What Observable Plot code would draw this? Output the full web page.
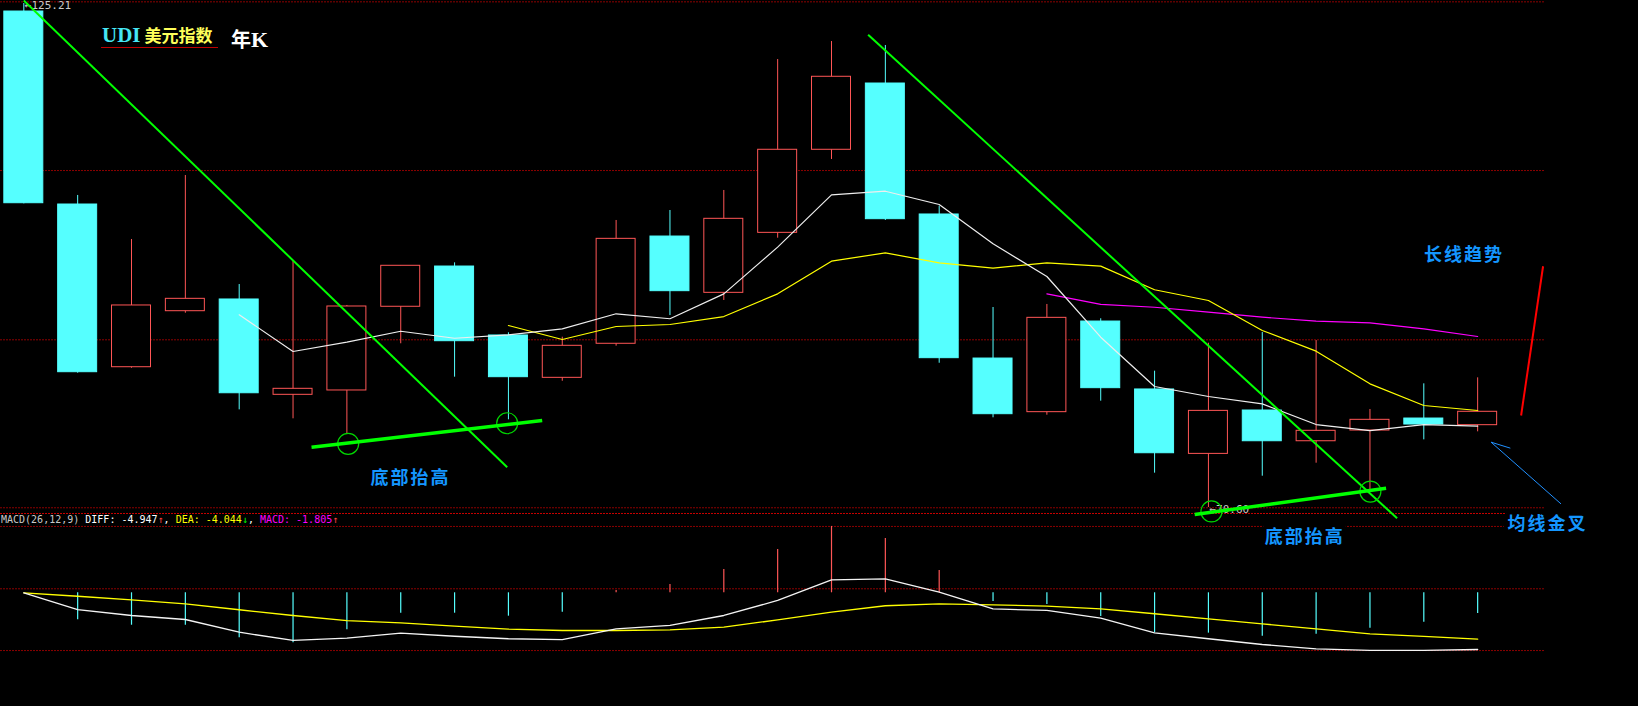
<!DOCTYPE html>
<html><head><meta charset="utf-8">
<script src="https://cdn.jsdelivr.net/npm/d3@7"></script>
<script src="https://cdn.jsdelivr.net/npm/@observablehq/plot@0.6"></script>
<style>
html,body{margin:0;padding:0;background:#000;}
#wrap{position:relative;width:1638px;height:706px;overflow:hidden;background:#000;}
#wrap svg{position:absolute;left:0;top:0;}
.ovl{position:absolute;white-space:pre;}
</style></head><body>
<div id="wrap"></div>
<script>
// ---- yearly candles (USD index) ----
const open  = [124.34,103.43,85.80,91.87,93.14,82.81,83.28,92.35,96.71,89.24,84.65,88.34,99.96,93.86,100.36,109.36,116.54,102.35,86.74,80.93,90.75,83.39,76.41,81.11,77.78,78.94,80.24,79.52];
const high  = [125.21,104.41,99.64,106.57,94.76,97.25,92.49,96.79,97.11,89.53,89.05,101.70,102.78,104.95,119.14,121.09,120.66,103.25,92.27,92.60,91.05,85.37,88.40,89.56,88.69,81.22,84.00,84.65];
const low   = [103.50,85.15,85.69,91.65,81.18,80.21,78.58,88.34,84.72,80.10,84.28,88.08,91.40,93.03,99.78,108.31,101.70,86.23,80.32,80.60,82.12,74.32,70.60,73.99,75.40,72.26,77.93,78.80];
const close = [103.57,85.26,92.49,93.21,82.98,83.46,92.38,96.79,88.62,84.72,88.12,99.71,94.04,101.88,109.36,117.27,101.84,86.78,80.71,91.15,83.53,76.48,81.07,77.78,78.91,80.10,79.59,80.97];
// moving averages
const ma5  = [null,null,null,null,91.48,87.50,88.51,89.70,88.94,89.31,89.96,91.59,91.05,93.75,98.81,104.48,104.87,103.43,99.17,95.63,89.05,83.71,82.63,81.83,79.59,78.94,79.59,79.41];
const ma10 = [null,null,null,null,null,null,null,null,null,90.32,88.80,90.21,90.43,91.29,93.75,97.29,98.19,97.11,96.53,97.11,96.75,94.19,93.03,89.78,87.54,84.00,81.65,81.11];
const ma20 = [null,null,null,null,null,null,null,null,null,null,null,null,null,null,null,null,null,null,null,93.75,92.60,92.30,91.76,91.22,90.79,90.61,89.96,89.13];
// MACD(26,12,9)
const diff = [0,-1.46,-1.98,-2.33,-3.44,-4.16,-3.96,-3.52,-3.79,-4.01,-4.08,-3.14,-2.85,-1.98,-0.67,1.13,1.22,0.05,-1.40,-1.54,-2.21,-3.49,-4.01,-4.51,-4.89,-5.03,-5.03,-4.947];
const dea  = [0,-0.30,-0.61,-0.96,-1.48,-1.98,-2.42,-2.62,-2.91,-3.17,-3.29,-3.29,-3.23,-3.00,-2.36,-1.69,-1.13,-0.96,-1.05,-1.17,-1.40,-1.83,-2.27,-2.71,-3.14,-3.58,-3.81,-4.044];
const macd = [0,-2.36,-2.83,-2.83,-3.93,-4.36,-3.23,-1.78,-1.78,-2.04,-1.69,0.20,0.72,2.03,3.78,5.79,4.74,1.95,-0.76,-1.02,-2.07,-3.49,-3.52,-3.79,-3.61,-3.09,-2.57,-1.805];
// reference lines
const priceGrid = [70.57, 88.77, 107.11, 125.39];
const macdGrid = [-5.04, 0.35, 5.79];
const macdFrame = [6.92];
// annotations (bar index, price)
const trendLines = [{x1:0,y1:125.53,x2:8.977,y2:74.97},{x1:15.68,y1:121.82,x2:25.504,y2:69.44}];
const supportLines = [{x1:5.343,y1:77.13,x2:9.627,y2:80.03},{x1:21.745,y1:69.84,x2:25.30,y2:72.69}];
const lowCircles = [{x:6.024,y:77.50},{x:8.977,y:79.73},{x:22.056,y:70.17},{x:25.008,y:72.33}];
const redTrend = [{x1:27.807,y1:80.57,x2:28.215,y2:96.74}];
const blueArrow = [{x1:28.548,y1:70.99,x2:27.249,y2:77.68},{x1:27.249,y1:77.68,x2:27.607,y2:77.03}];
const notes = [
  {x:26.745,y:97.98,text:"长线趋势"},
  {x:7.181,y:73.82,text:"底部抬高"},
  {x:23.79,y:67.38,text:"底部抬高"},
  {x:28.295,y:68.76,text:"均线金叉"}
];
const extremes = [{x:0,y:125.21,text:"←125.21"},{x:22,y:70.60,text:"←70.60"}];

const UP = "#ff5656", DN = "#55ffff";
const candles = open.map((o,i)=>({i, open:o, high:high[i], low:low[i], close:close[i], up: close[i] >= o}));
const rows = a => a.map((v,i)=>({i, v})).filter(d => d.v != null);

const X = {type:"linear", domain:[-0.433, 28.26], range:[0,1545], axis:null};
const common = {width:1638, height:706, marginLeft:0, marginRight:93, marginTop:0, marginBottom:0, color:{type:"identity"}};

const macdPlot = Plot.plot({
  ...common,
  style:{background:"transparent"},
  x: X,
  y: {domain:[-5,5], range:[649.6,535], axis:null},
  marks:[
    Plot.ruleY(macdGrid, {stroke:"#8c0000", strokeDasharray:"2 1"}),
    Plot.ruleY(macdFrame, {stroke:"#c80000", strokeDasharray:"2 1"}),
    Plot.ruleX(rows(macd), {x:"i", y1:0, y2:"v", stroke:d => d.v >= 0 ? UP : DN, strokeWidth:1.2}),
    Plot.line(rows(dea), {x:"i", y:"v", stroke:"#ffff00", strokeWidth:1.3}),
    Plot.line(rows(diff), {x:"i", y:"v", stroke:"#f4f4f4", strokeWidth:1.3})
  ]
});

const mainPlot = Plot.plot({
  ...common,
  style:{background:"transparent"},
  x: X,
  y: {domain:[70.6,125.21], range:[507,3], axis:null},
  marks:[
    Plot.ruleY(priceGrid, {stroke:"#8c0000", strokeDasharray:"2 1"}),
    Plot.ruleX(candles, {x:"i", y1:"low", y2:"high", stroke:d => d.up ? UP : DN}),
    Plot.rect(candles, {x1:d => d.i - 0.362, x2:d => d.i + 0.362, y1:"open", y2:"close",
      fill:d => d.up ? "#000000" : DN, stroke:d => d.up ? UP : DN}),
    Plot.line(rows(ma20), {x:"i", y:"v", stroke:"#ff00ff", strokeWidth:1.2}),
    Plot.line(rows(ma10), {x:"i", y:"v", stroke:"#ffff00", strokeWidth:1.2}),
    Plot.line(rows(ma5), {x:"i", y:"v", stroke:"#eeeeee", strokeWidth:1.2}),
    Plot.text(extremes, {x:"x", y:"y", text:"text", textAnchor:"start", dx:1, dy:2,
      fill:"#c8c8c8", fontSize:11, fontFamily:"DejaVu Sans Mono"}),
    Plot.link(trendLines, {x1:"x1", y1:"y1", x2:"x2", y2:"y2", stroke:"#00ff00", strokeWidth:2}),
    Plot.dot(lowCircles, {x:"x", y:"y", r:10.5, stroke:"#00d800", fill:"none", strokeWidth:1.2}),
    Plot.link(supportLines, {x1:"x1", y1:"y1", x2:"x2", y2:"y2", stroke:"#00ff00", strokeWidth:3.5}),
    Plot.link(redTrend, {x1:"x1", y1:"y1", x2:"x2", y2:"y2", stroke:"#ff0000", strokeWidth:2}),
    Plot.link(blueArrow, {x1:"x1", y1:"y1", x2:"x2", y2:"y2", stroke:"#2090ff", strokeWidth:1}),
    Plot.text(notes, {x:"x", y:"y", text:"text", fill:"#1496ff", fontSize:18, fontWeight:"bold",
      fontFamily:"Noto Sans CJK SC", stroke:"#000000", strokeWidth:9, paintOrder:"stroke"})
  ]
});

const wrap = document.getElementById("wrap");
wrap.appendChild(macdPlot);
wrap.appendChild(mainPlot);
mainPlot.querySelectorAll("text").forEach(t => {
  if (/[\u4e00-\u9fff]/.test(t.textContent)) t.style.letterSpacing = "2px";
});

// title
const title = document.createElement("div");
title.className = "ovl";
title.style.cssText = "position:absolute;left:102px;top:22px;white-space:pre;line-height:26px;";
title.innerHTML = '<span style="font:bold 21px \'Liberation Serif\';color:#45e6f5">UDI</span>' +
  '<span style="font:bold 17px \'Noto Sans CJK SC\';color:#ffff5a;margin-left:4px">美元指数</span>';
wrap.appendChild(title);
const ul = document.createElement("div");
ul.style.cssText = "position:absolute;left:101px;top:47px;width:117px;height:1px;background:#c00000";
wrap.appendChild(ul);
const k = document.createElement("div");
k.className = "ovl";
k.style.cssText = "position:absolute;left:231px;top:24px;white-space:pre;line-height:28px;color:#ffffff";
k.innerHTML = '<span style="font:bold 20px \'Noto Sans CJK SC\'">年</span><span style="font:bold 22px \'Liberation Serif\'">K</span>';
wrap.appendChild(k);

// MACD header
const last = diff.length - 1;
const hdr = document.createElement("div");
hdr.className = "ovl";
hdr.style.cssText = "position:absolute;left:1px;top:514px;white-space:pre;font:10px 'DejaVu Sans Mono';line-height:12px;color:#ffffff";
hdr.innerHTML = '<span style="color:#c8c8c8">MACD(26,12,9)</span> DIFF: ' + diff[last].toFixed(3) +
  '<span style="color:#ff4040">↑</span>, <span style="color:#ffff00">DEA: ' + dea[last].toFixed(3) + '</span>' +
  '<span style="color:#00ff00">↓</span>, <span style="color:#ff00ff">MACD: ' + macd[last].toFixed(3) + '</span>' +
  '<span style="color:#ff4040">↑</span>';
wrap.appendChild(hdr);
</script>
</body></html>
